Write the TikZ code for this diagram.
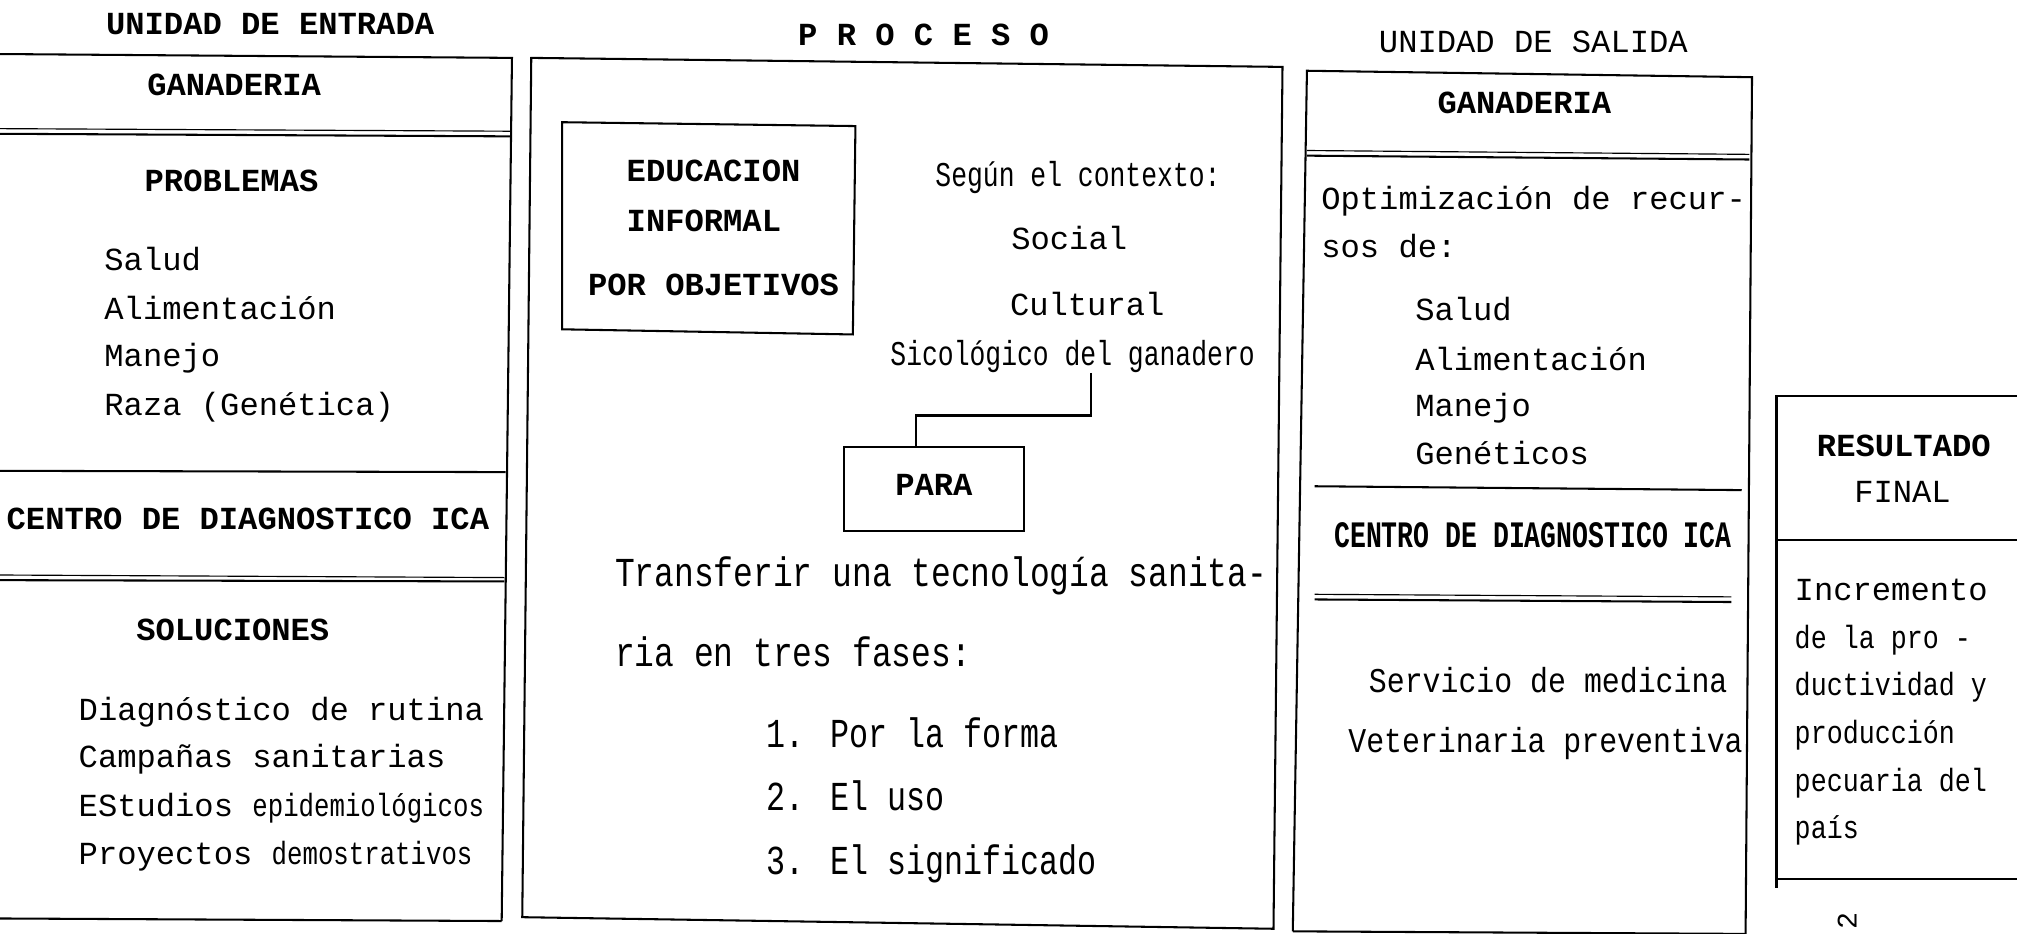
\documentclass[tikz,border=0pt]{standalone}
\usepackage{fontspec}
\setmainfont{Liberation Mono}
\newfontfamily\mono{Liberation Mono}
\newfontfamily\monoA[FakeStretch=0.8]{Liberation Mono}
\newfontfamily\monoF[FakeStretch=0.77]{Liberation Mono}
\newfontfamily\monoB[FakeStretch=0.76]{Liberation Mono}
\newfontfamily\monoC[FakeStretch=0.86]{Liberation Mono}
\newfontfamily\monoD[FakeStretch=0.83]{Liberation Mono}
\newfontfamily\monoE[FakeStretch=0.71]{Liberation Mono}
\newfontfamily\monoG[FakeStretch=0.8]{Liberation Mono}
\tikzset{
  ln/.style={line width=1.6pt},
  lnthin/.style={line width=0.9pt},
  txt/.style={inner sep=0pt, anchor=base west, font=\mono\fontsize{25}{30}\selectfont},
  hd/.style={inner sep=0pt, anchor=base, font=\mono\bfseries\fontsize{25}{30}\selectfont},
  hdw/.style={inner sep=0pt, anchor=base west, font=\mono\bfseries\fontsize{25}{30}\selectfont},
  ttl/.style={inner sep=0pt, anchor=base, font=\mono\fontsize{25}{30}\selectfont},
  tall/.style={inner sep=0pt, anchor=base west, font=\monoA\fontsize{32}{36}\selectfont},
  talln/.style={inner sep=0pt, anchor=base west, font=\monoF\fontsize{32}{36}\selectfont},
  ctx/.style={inner sep=0pt, anchor=base west, font=\monoB\fontsize{27}{32}\selectfont},
  serv/.style={inner sep=0pt, anchor=base west, font=\monoC\fontsize{27}{32}\selectfont},
  narrow/.style={inner sep=0pt, anchor=base west, font=\monoD\fontsize{25}{30}\selectfont},
  hdc/.style={inner sep=0pt, anchor=base west, font=\monoE\bfseries\fontsize{29}{34}\selectfont},
}
\begin{document}
\begin{tikzpicture}[x=1pt,y=-1pt]
\useasboundingbox (0,0) rectangle (1568,726);

% ---------------- left column: UNIDAD DE ENTRADA
\node[hd] (tin) at (210,27) {UNIDAD DE ENTRADA};
\draw[ln] (0,42) -- (398,45) -- (390,716);
\draw[ln] (0,714) -- (390,716);
\draw[lnthin] (0,100) -- (397,102);
\draw[ln] (0,104) -- (397,106);
\draw[ln] (0,366) -- (393,367);
\draw[lnthin] (0,447) -- (392,449);
\draw[ln] (0,451) -- (392,452);

\node[hd] (gan1) at (182,74) {GANADERIA};
\node[hd] (prob) at (180,149) {PROBLEMAS};
\node[txt] (p1) at (81,210) {Salud};
\node[txt] (p2) at (81,248) {Alimentación};
\node[txt] (p3) at (81,285) {Manejo};
\node[txt] (p4) at (81,323) {Raza (Genética)};
\node[hdw] (cdi1) at (5,412) {CENTRO DE DIAGNOSTICO ICA};
\node[hd] (sol) at (181,498) {SOLUCIONES};
\node[txt] (s1) at (61,560) {Diagnóstico de rutina};
\node[txt] (s2) at (61,597) {Campañas sanitarias};
\node[txt] (s3) at (61,635) {EStudios {\monoG epidemiológicos}};
\node[txt] (s4) at (61,672) {Proyectos {\monoG demostrativos}};

% ---------------- middle: PROCESO
\node[hd] (tpr) at (718,35) {P R O C E S O};
\draw[ln] (413,45) -- (997,52) -- (990,722) -- (406,713) -- cycle;
\draw[ln] (437,95) -- (665,98) -- (663,260) -- (437,256) -- cycle;
\node[hdw] (edu) at (487,141) {EDUCACION};
\node[hdw] (inf) at (487,180) {INFORMAL};
\node[hdw] (obj) at (457,230) {POR OBJETIVOS};
\node[ctx] (seg) at (727,145) {Según el contexto:};
\node[txt] (soc) at (786,194) {Social};
\node[txt] (cul) at (785,245) {Cultural};
\node[ctx] (sico) at (692,284) {Sicológico del ganadero};
\node[draw, ln, minimum width=140pt, minimum height=65pt, inner sep=0pt,
      font=\mono\bfseries\fontsize{25}{30}\selectfont] (para) at (726,380) {\raisebox{6pt}{PARA}};
\coordinate (cx1) at (848,0);
\coordinate (bend) at (712,323);
\draw[ln] (sico.south -| cx1) |- (bend) -- (para.north -| bend);
\node[tall] (tr1) at (478,456) {Transferir una tecnología sanita-};
\node[tall] (tr2) at (478,518) {ria en tres fases:};
\node[talln] (f1) at (596,581) {1. Por la forma};
\node[talln] (f2) at (596,630) {2. El uso};
\node[talln] (f3) at (596,680) {3. El significado};

% ---------------- right column: UNIDAD DE SALIDA
\node[ttl] (tout) at (1192,41) {UNIDAD DE SALIDA};
\draw[ln] (1005,724) -- (1016,55) -- (1362,60) -- (1357,726);
\draw[ln] (1005,724) -- (1357,726);
\draw[lnthin] (1016,117) -- (1360,120);
\draw[ln] (1016,121) -- (1360,124);
\draw[ln] (1022,378) -- (1354,381);
\draw[lnthin] (1022,462) -- (1346,464);
\draw[ln] (1022,466) -- (1346,468);
\node[hd] (gan2) at (1185,88) {GANADERIA};
\node[txt] (o1) at (1027,163) {Optimización de recur-};
\node[txt] (o2) at (1027,200) {sos de:};
\node[txt] (r1) at (1100,249) {Salud};
\node[txt] (r2) at (1100,288) {Alimentación};
\node[txt] (r3) at (1100,324) {Manejo};
\node[txt] (r4) at (1100,361) {Genéticos};
\node[hdc] (cdi2) at (1037,426) {CENTRO DE DIAGNOSTICO ICA};
\node[serv] (sv1) at (1064,538) {Servicio de medicina};
\node[serv] (sv2) at (1048,585) {Veterinaria preventiva};

% ---------------- RESULTADO FINAL
\draw[ln] (1568,308) -- (1381,308) -- (1381,690);
\draw[ln] (1381,420) -- (1568,420);
\draw[ln] (1381,683) -- (1568,683);
\node[hd] (res) at (1480,355) {RESULTADO};
\node[ttl] (fin) at (1479,391) {FINAL};
\node[txt] (i1) at (1395,467) {Incremento};
\node[narrow] (i2) at (1395,504) {de la pro -};
\node[narrow] (i3) at (1395,541) {ductividad y};
\node[narrow] (i4) at (1395,578) {producción};
\node[narrow] (i5) at (1395,615) {pecuaria del};
\node[narrow] (i6) at (1395,652) {país};

% page number
\node[inner sep=0pt, rotate=90, font=\mono\fontsize{22}{26}\selectfont] (pg) at (1436,716) {2};
\end{tikzpicture}
\end{document}
